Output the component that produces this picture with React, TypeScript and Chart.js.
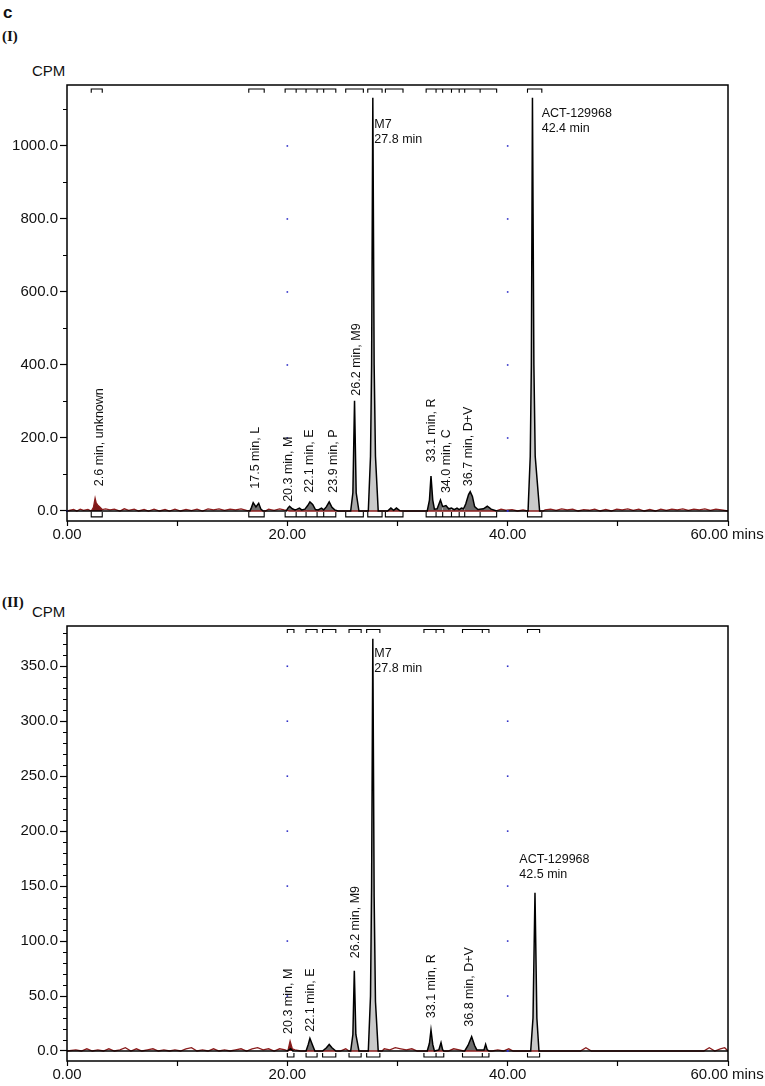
import React, { useEffect, useRef } from "react";
import { Chart, registerables } from "chart.js";
Chart.register(...registerables);

type Pt = [number, number];

// ---------------- shared axis data ----------------
const xTicks = [0, 10, 20, 30, 40, 50, 60];
const xLabels = ["0.00", "", "20.00", "", "40.00", "", "60.00"];
const xUnit = "mins";

// ---------------- Panel (I) ----------------
const traceI: Pt[] = [
  [0, 0], [16.6, 0], [16.75, 10], [16.9, 23], [17.15, 11], [17.4, 21], [17.6, 5], [17.8, 0],
  [19.9, 0], [20.05, 8], [20.2, 13], [20.45, 6], [20.7, 3], [20.9, 5], [21.1, 8], [21.3, 3],
  [21.6, 5], [21.85, 15], [22.05, 25], [22.3, 18], [22.55, 4], [22.8, 3], [23.1, 8], [23.3, 3],
  [23.55, 12], [23.8, 25], [24.05, 10], [24.3, 3], [24.6, 0],
  [25.75, 0], [25.95, 50], [26.1, 302], [26.25, 50], [26.5, 0],
  [27.35, 0], [27.55, 150], [27.65, 400], [27.76, 1132], [27.88, 400], [28.0, 150], [28.25, 0],
  [29.1, 0], [29.4, 8], [29.65, 2], [29.9, 8], [30.2, 1], [30.5, 0],
  [32.7, 0], [32.9, 30], [33.04, 96], [33.2, 30], [33.35, 5], [33.6, 6], [33.9, 30], [34.1, 12],
  [34.4, 15], [34.65, 6], [34.9, 8], [35.15, 4], [35.4, 8], [35.6, 4], [35.8, 8], [36.0, 6],
  [36.2, 20], [36.45, 45], [36.6, 53], [36.8, 40], [37.0, 12], [37.3, 4], [37.8, 6], [38.15, 13],
  [38.5, 5], [39.0, 0],
  [41.85, 0], [42.05, 150], [42.15, 400], [42.25, 1132], [42.38, 400], [42.5, 150], [42.9, 0],
  [60, 0],
];
const noiseI: Pt[] = [
  [0, 0], [0.6, 4], [0.9, 0], [1.2, 5], [1.5, 2], [1.9, 4], [2.2, 0], [2.4, 10], [2.55, 35],
  [2.65, 22], [2.8, 16], [2.95, 12], [3.2, 4], [3.5, 6], [3.9, 3], [4.3, 5], [4.8, 0], [5.2, 6],
  [5.6, 2], [6.1, 5], [6.5, 0], [7.0, 4], [7.4, 0], [7.9, 5], [8.4, 0], [8.9, 4], [9.3, 0],
  [9.8, 5], [10.3, 0], [10.8, 4], [11.3, 1], [11.8, 5], [12.3, 0], [12.8, 6], [13.3, 3],
  [13.8, 6], [14.3, 2], [14.8, 5], [15.3, 3], [15.8, 6], [16.3, 2], [16.6, 0], [18.0, 0],
  [18.3, 5], [18.8, 2], [19.3, 6], [19.7, 3], [20.2, 0], [38.9, 0], [39.4, 5], [39.9, 2],
  [40.4, 4], [40.9, 0], [41.4, 3], [41.8, 0], [43.2, 0], [43.4, 3], [43.9, 5], [44.4, 2],
  [44.9, 6], [45.4, 3], [45.9, 5], [46.4, 0], [46.9, 4], [47.4, 2], [47.9, 5], [48.4, 0],
  [48.9, 4], [49.4, 0], [49.9, 5], [50.4, 3], [50.9, 6], [51.4, 2], [51.9, 5], [52.4, 0],
  [52.9, 4], [53.4, 0], [53.9, 5], [54.4, 2], [54.9, 5], [55.4, 3], [55.9, 6], [56.4, 2],
  [56.9, 5], [57.4, 3], [57.9, 6], [58.4, 2], [58.9, 5], [59.4, 3], [60, 0],
];
const windowsI: Pt[] = [
  [2.2, 3.2], [16.5, 17.9], [19.8, 20.8], [20.8, 21.7], [21.7, 22.7], [22.7, 23.3], [23.3, 24.4],
  [25.3, 26.9], [27.3, 28.6], [28.9, 30.5], [32.6, 33.5], [33.5, 34.1], [34.1, 34.9],
  [34.9, 35.6], [35.6, 36.1], [36.1, 37.5], [37.5, 39.0], [41.8, 43.1],
];
const shadesI = [
  "red", "dark", "dark", "dark", "dark", "dark", "dark", "mid", "light", "dark", "dark", "dark",
  "dark", "dark", "dark", "dark", "dark", "light",
];
const yMajorI = [0, 200, 400, 600, 800, 1000];
const yLabelsI = ["0.0", "200.0", "400.0", "600.0", "800.0", "1000.0"];
const yMinorI = [100, 300, 500, 700, 900, 1100];
const rotTextI = [
  "2.6 min, unknown", "17.5 min, L", "20.3 min, M", "22.1 min, E", "23.9 min, P",
  "26.2 min, M9", "33.1 min, R", "34.0 min, C", "36.7 min, D+V",
];
const rotAtI: Pt[] = [
  [2.93, 68], [17.16, 61], [20.09, 25], [22.06, 50], [24.17, 50],
  [26.29, 316], [33.13, 133], [34.49, 49], [36.43, 68],
];
const blockTextI = [["M7", "27.8 min"], ["ACT-129968", "42.4 min"]];
const blockAtI: Pt[] = [[27.9, 1060], [43.09, 1090]];

// ---------------- Panel (II) ----------------
const traceII: Pt[] = [
  [0, 0], [20.0, 0], [20.15, 1], [20.3, 2], [20.5, 0],
  [21.7, 0], [21.9, 6], [22.05, 11.5], [22.3, 5], [22.5, 0],
  [23.2, 0], [23.55, 3], [23.8, 6], [24.05, 3], [24.4, 0],
  [25.75, 0], [25.95, 15], [26.08, 73], [26.22, 15], [26.5, 0],
  [27.35, 0], [27.55, 50], [27.65, 150], [27.76, 375], [27.88, 140], [28.0, 45], [28.25, 0],
  [32.7, 0], [32.9, 7], [33.04, 19], [33.2, 6], [33.35, 0], [33.75, 1], [33.95, 7.5], [34.1, 1],
  [34.2, 0], [36.1, 0], [36.4, 5], [36.73, 13], [37.0, 5], [37.2, 1], [37.85, 1], [38.0, 6],
  [38.15, 1], [38.3, 0],
  [42.09, 0], [42.3, 30], [42.48, 144], [42.65, 30], [42.84, 0], [60, 0],
];
const noiseII: Pt[] = [
  [0, 0], [0.8, 1], [1.3, 0], [1.8, 2], [2.3, 0], [2.8, 1], [3.3, 0], [3.8, 2], [4.3, 0],
  [4.8, 1], [5.3, 3], [5.8, 0], [6.3, 2], [6.8, 0], [7.3, 1], [7.8, 2], [8.3, 0], [8.8, 1],
  [9.3, 0], [9.8, 1], [10.3, 0], [10.8, 2], [11.3, 3], [11.8, 0], [12.3, 1], [12.8, 0],
  [13.3, 2], [13.8, 0], [14.3, 1], [14.8, 0], [15.3, 1], [15.8, 2], [16.3, 0], [16.8, 2],
  [17.3, 3], [17.8, 1], [18.3, 2], [18.8, 0], [19.3, 2], [19.8, 1], [20.05, 0], [20.25, 9],
  [20.45, 2], [20.7, 1], [21.2, 0], [24.8, 0], [25.3, 2], [25.6, 0], [28.6, 0], [28.8, 2],
  [29.3, 1], [29.8, 3], [30.3, 2], [30.8, 1], [31.3, 2], [31.8, 0], [34.6, 0], [35.1, 2],
  [35.6, 1], [36.0, 0], [38.6, 0], [39.1, 1], [39.6, 0], [40.1, 2], [40.5, 0], [46.6, 0],
  [47.1, 3], [47.6, 0], [57.8, 0], [58.3, 3], [58.8, 0], [59.3, 2], [59.7, 3], [60, 0],
];
const windowsII: Pt[] = [
  [20.0, 20.6], [21.7, 22.7], [23.2, 24.4], [25.6, 26.7], [27.2, 28.4], [32.4, 33.5],
  [33.5, 34.2], [35.9, 37.7], [37.7, 38.3], [41.8, 42.9],
];
const shadesII = ["red", "dark", "dark", "mid", "light", "dark", "dark", "dark", "dark", "light"];
const yMajorII = [0, 50, 100, 150, 200, 250, 300, 350];
const yLabelsII = ["0.0", "50.0", "100.0", "150.0", "200.0", "250.0", "300.0", "350.0"];
const yMinorII = [
  10, 20, 30, 40, 60, 70, 80, 90, 110, 120, 130, 140, 160, 170, 180, 190, 210, 220, 230, 240,
  260, 270, 280, 290, 310, 320, 330, 340, 360, 370, 380,
];
const rotTextII = ["20.3 min, M", "22.1 min, E", "26.2 min, M9", "33.1 min, R", "36.8 min, D+V"];
const rotAtII: Pt[] = [[20.09, 15.5], [22.15, 17.6], [26.23, 84.4], [33.13, 29.8], [36.58, 22.1]];
const blockTextII = [["M7", "27.8 min"], ["ACT-129968", "42.5 min"]];
const blockAtII: Pt[] = [[27.9, 361.6], [41.06, 174]];

// ---------------- styling ----------------
const FONT = "'Liberation Sans', Arial, Helvetica, sans-serif";
const SHADE: Record<string, string> = {
  light: "#cacaca",
  mid: "#ababab",
  dark: "#6c6c6c",
  red: "#7d1a1a",
};

type PanelCfg = {
  trace: Pt[];
  noise: Pt[];
  windows: Pt[];
  shades: string[];
  yMin: number;
  yMax: number;
  yMajor: number[];
  yLabels: string[];
  yMinor: number[];
  rotText: string[];
  rotAt: Pt[];
  blockText: string[][];
  blockAt: Pt[];
  botBar: number;
  botLeg: number;
  topBar: number;
  topLeg: number;
  dotX: number[];
  dotY: number[];
  zeroDotX: number[];
  xAxisH: number;
  padTop: number;
};

function interp(trace: Pt[], t: number): number {
  for (let i = 0; i < trace.length - 1; i++) {
    const [t0, v0] = trace[i];
    const [t1, v1] = trace[i + 1];
    if (t >= t0 && t <= t1) return t1 === t0 ? v0 : v0 + ((v1 - v0) * (t - t0)) / (t1 - t0);
  }
  return 0;
}

function slice(trace: Pt[], a: number, b: number) {
  const out: { x: number; y: number }[] = [{ x: a, y: interp(trace, a) }];
  for (const [t, v] of trace) if (t > a && t < b) out.push({ x: t, y: v });
  out.push({ x: b, y: interp(trace, b) });
  return out;
}

function bracketPts(wins: Pt[], bar: number, leg: number) {
  const pts: { x: number; y: number | null }[] = [];
  for (const [a, b] of wins) {
    pts.push({ x: a, y: leg }, { x: a, y: bar }, { x: b, y: bar }, { x: b, y: leg }, { x: b, y: null });
  }
  return pts;
}

function buildChart(canvas: HTMLCanvasElement, c: PanelCfg) {
  const fills = c.windows.map((w, i) => ({
    data: slice(c.shades[i] === "red" ? c.noise : c.trace, w[0], w[1]),
    fill: "origin",
    backgroundColor: SHADE[c.shades[i]],
    borderColor: "rgba(0,0,0,0)",
    borderWidth: 0,
    pointRadius: 0,
    order: 10,
  }));
  const plain = { pointRadius: 0, fill: false, backgroundColor: "rgba(0,0,0,0)" };
  const datasets: any[] = [
    ...fills,
    { ...plain, data: c.noise.map(([x, y]) => ({ x, y })), borderColor: "#8a1d1d", borderWidth: 1.3, order: 8 },
    { ...plain, data: c.trace.map(([x, y]) => ({ x, y })), borderColor: "#000", borderWidth: 1.5, order: 5 },
    { ...plain, data: bracketPts(c.windows, c.botBar, c.botLeg), borderColor: "#000", borderWidth: 1.1, spanGaps: false, order: 1 },
    { ...plain, data: bracketPts(c.windows, c.topBar, c.topLeg), borderColor: "#000", borderWidth: 1.1, spanGaps: false, order: 1 },
  ];

  const deco = {
    id: "deco",
    afterDatasetsDraw(chart: any) {
      const ctx = chart.ctx as CanvasRenderingContext2D;
      const xs = chart.scales.x;
      const ys = chart.scales.y;
      ctx.save();
      ctx.fillStyle = "#3030c8";
      for (const dx of c.dotX)
        for (const dy of c.dotY) {
          ctx.fillRect(xs.getPixelForValue(dx) - 0.8, ys.getPixelForValue(dy) - 0.8, 1.6, 1.6);
        }
      for (const dx of c.zeroDotX) {
        ctx.fillRect(xs.getPixelForValue(dx) - 1, ys.getPixelForValue(0) - 1, 2, 2);
      }
      ctx.fillStyle = "#111";
      ctx.font = "12.5px " + FONT;
      c.rotText.forEach((txt, i) => {
        const px = xs.getPixelForValue(c.rotAt[i][0]);
        const py = ys.getPixelForValue(c.rotAt[i][1]);
        ctx.save();
        ctx.translate(px, py);
        ctx.rotate(-Math.PI / 2);
        ctx.textAlign = "left";
        ctx.textBaseline = "middle";
        ctx.fillText(txt, 0, 0);
        ctx.restore();
      });
      c.blockText.forEach((lines, i) => {
        const px = xs.getPixelForValue(c.blockAt[i][0]);
        const py = ys.getPixelForValue(c.blockAt[i][1]);
        ctx.textAlign = "left";
        ctx.textBaseline = "middle";
        lines.forEach((ln, j) => ctx.fillText(ln, px, py + j * 15));
      });
      ctx.restore();
    },
    afterDraw(chart: any) {
      const ctx = chart.ctx as CanvasRenderingContext2D;
      const a = chart.chartArea;
      const ys = chart.scales.y;
      ctx.save();
      ctx.strokeStyle = "#000";
      ctx.lineWidth = 1.5;
      ctx.strokeRect(a.left, a.top, a.right - a.left, a.bottom - a.top);
      ctx.lineWidth = 1;
      ctx.beginPath();
      for (const v of c.yMinor) {
        const py = Math.round(ys.getPixelForValue(v)) + 0.5;
        ctx.moveTo(a.left - 4, py);
        ctx.lineTo(a.left, py);
      }
      ctx.stroke();
      // last x label right-aligned at the axis end, then the unit
      ctx.fillStyle = "#111";
      ctx.font = "15px " + FONT;
      ctx.textBaseline = "middle";
      ctx.textAlign = "right";
      ctx.fillText(xLabels[xLabels.length - 1], a.right, a.bottom + 14);
      ctx.textAlign = "left";
      ctx.fillText(xUnit, a.right + 4, a.bottom + 14);
      ctx.restore();
    },
  };

  return new Chart(canvas, {
    type: "line",
    data: { datasets },
    options: {
      animation: false,
      responsive: false,
      maintainAspectRatio: false,
      devicePixelRatio: 1,
      layout: { padding: { top: c.padTop, right: 37, left: 0, bottom: 0 } },
      plugins: { legend: { display: false }, tooltip: { enabled: false } },
      elements: { line: { tension: 0 }, point: { radius: 0 } },
      scales: {
        x: {
          type: "linear",
          min: 0,
          max: 60,
          afterBuildTicks: (s: any) => {
            s.ticks = xTicks.map((v) => ({ value: v }));
          },
          afterFit: (s: any) => {
            s.height = c.xAxisH;
          },
          ticks: {
            autoSkip: false,
            maxRotation: 0,
            padding: 0,
            color: "#111",
            font: { size: 15, family: FONT },
            callback: (v: any) => {
              const i = xTicks.indexOf(Number(v));
              return i >= 0 && i < xTicks.length - 1 ? xLabels[i] : "";
            },
          },
          grid: { drawOnChartArea: false, tickLength: 5, tickColor: "#000", tickWidth: 1.2 },
          border: { display: false },
        },
        y: {
          type: "linear",
          min: c.yMin,
          max: c.yMax,
          afterBuildTicks: (s: any) => {
            s.ticks = c.yMajor.map((v) => ({ value: v }));
          },
          afterFit: (s: any) => {
            s.width = 67;
          },
          ticks: {
            autoSkip: false,
            padding: 2,
            color: "#111",
            font: { size: 15, family: FONT },
            callback: (v: any) => {
              const i = c.yMajor.indexOf(Number(v));
              return i >= 0 ? c.yLabels[i] : "";
            },
          },
          grid: { drawOnChartArea: false, tickLength: 7, tickColor: "#000", tickWidth: 1.2 },
          border: { display: false },
        },
      },
    },
    plugins: [deco],
  } as any);
}

const cfgI: PanelCfg = {
  trace: traceI,
  noise: noiseI,
  windows: windowsI,
  shades: shadesI,
  yMin: -27.4,
  yMax: 1167,
  yMajor: yMajorI,
  yLabels: yLabelsI,
  yMinor: yMinorI,
  rotText: rotTextI,
  rotAt: rotAtI,
  blockText: blockTextI,
  blockAt: blockAtI,
  botBar: -16,
  botLeg: -3,
  topBar: 1156,
  topLeg: 1146,
  dotX: [20, 40],
  dotY: [200, 400, 600, 800, 1000],
  zeroDotX: [0, 40],
  xAxisH: 30,
  padTop: 15,
};

const cfgII: PanelCfg = {
  trace: traceII,
  noise: noiseII,
  windows: windowsII,
  shades: shadesII,
  yMin: -9.1,
  yMax: 386.6,
  yMajor: yMajorII,
  yLabels: yLabelsII,
  yMinor: yMinorII,
  rotText: rotTextII,
  rotAt: rotAtII,
  blockText: blockTextII,
  blockAt: blockAtII,
  botBar: -5.5,
  botLeg: -1.8,
  topBar: 383.4,
  topLeg: 380.2,
  dotX: [20, 40],
  dotY: [50, 100, 150, 200, 250, 300, 350],
  zeroDotX: [40],
  xAxisH: 25,
  padTop: 16,
};

function Panel({ cfg, top, height }: { cfg: PanelCfg; top: number; height: number }) {
  const ref = useRef<HTMLCanvasElement | null>(null);
  useEffect(() => {
    if (!ref.current) return;
    const ch = buildChart(ref.current, cfg);
    return () => ch.destroy();
  }, [cfg]);
  return (
    <canvas
      ref={ref}
      width={765}
      height={height}
      style={{ position: "absolute", left: 0, top, width: 765, height }}
    />
  );
}

export default function App() {
  const txt = (extra: React.CSSProperties): React.CSSProperties => ({
    position: "absolute",
    margin: 0,
    whiteSpace: "nowrap",
    color: "#111",
    ...extra,
  });
  return (
    <div style={{ position: "absolute", left: 0, top: 0, width: 765, height: 1086, background: "#fff" }}>
      <div style={txt({ left: 3, top: 3.6, font: `bold 17px ${FONT}`, lineHeight: "17px" })}>c</div>
      <div style={txt({ left: 2, top: 29, font: "bold 15px 'Liberation Serif', 'Times New Roman', serif", lineHeight: "15px" })}>(I)</div>
      <div style={txt({ left: 32, top: 63.3, font: `15px ${FONT}`, lineHeight: "15px" })}>CPM</div>
      <Panel cfg={cfgI} top={70} height={481} />
      <div style={txt({ left: 2, top: 595, font: "bold 15px 'Liberation Serif', 'Times New Roman', serif", lineHeight: "15px" })}>(II)</div>
      <div style={txt({ left: 32, top: 604.3, font: `15px ${FONT}`, lineHeight: "15px" })}>CPM</div>
      <Panel cfg={cfgII} top={610} height={476} />
    </div>
  );
}
